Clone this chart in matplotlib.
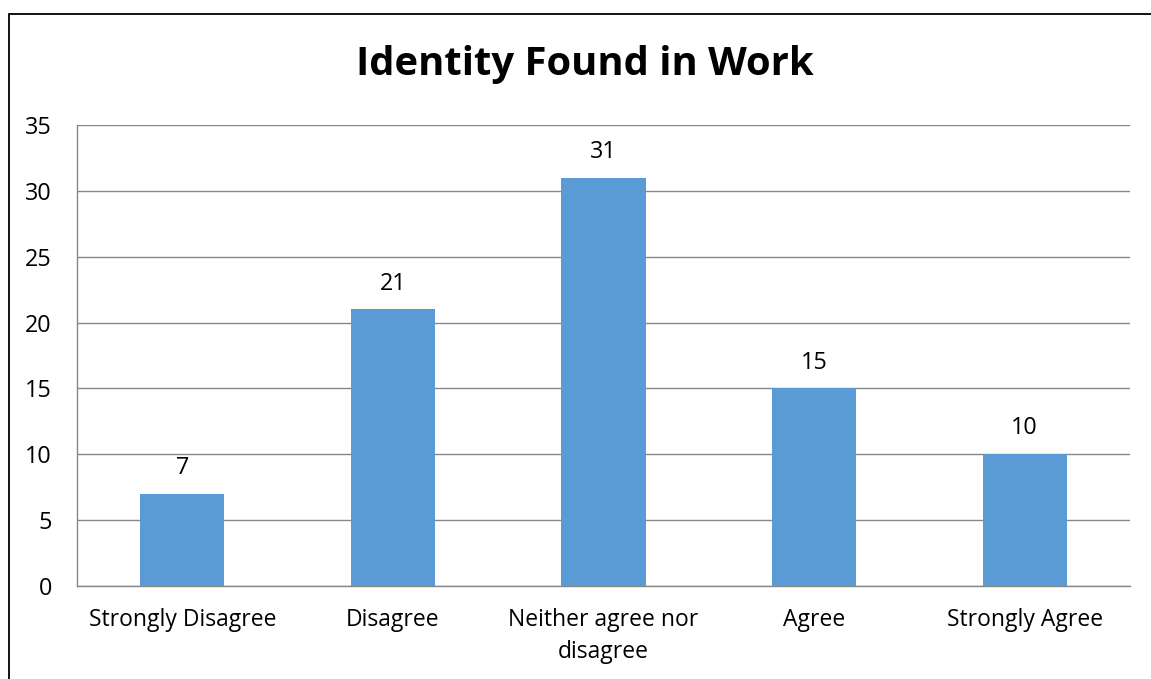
import numpy as np
import matplotlib.pyplot as plt
from matplotlib.patches import Rectangle

# Survey responses
categories = ['Strongly Disagree', 'Disagree', 'Neither agree nor\ndisagree', 'Agree', 'Strongly Agree']
counts = [7, 21, 31, 15, 10]

plt.rcParams['font.family'] = ['Open Sans', 'DejaVu Sans']

W, H = 1151, 679
fig = plt.figure(figsize=(W / 100, H / 100), dpi=100, facecolor='white')

# Chart area border (runs off the right and bottom edges)
fig.patches.append(Rectangle((8.5 / W, -0.1), 1.2, 1 - 13.5 / H + 0.1,
                             transform=fig.transFigure, fill=False,
                             edgecolor='black', linewidth=1.3))

ax = fig.add_axes([77 / W, 1 - 586 / H, (1130 - 77) / W, (586 - 125) / H])
x_pos = np.arange(len(categories))
rects = ax.bar(x_pos, counts, width=0.4, color='#5B9BD5', zorder=3)

ax.set_xlim(-0.5, len(categories) - 0.5)
ax.set_ylim(0, 35)
ax.set_yticks(np.arange(0, 36, 5))
ax.yaxis.grid(True, color='#878787', linewidth=1.0, zorder=0)
ax.set_xticks(x_pos)
ax.set_xticklabels(categories, fontsize=16.5, linespacing=1.45)
ax.tick_params(axis='both', length=0, colors='black')
ax.tick_params(axis='y', pad=18, labelsize=16.8)
ax.tick_params(axis='x', pad=16)

for side in ['top', 'right']:
    ax.spines[side].set_visible(False)
for side in ['left', 'bottom']:
    ax.spines[side].set_color('#878787')
    ax.spines[side].set_linewidth(1.0)

# Value labels above the bars
for rect, val in zip(rects, counts):
    ax.annotate(str(val), (rect.get_x() + rect.get_width() / 2, val),
                xytext=(0, 10), textcoords='offset points',
                ha='center', va='bottom', fontsize=16.8)

fig.text(585 / W, 1 - 65 / H, 'Identity Found in Work', ha='center', va='center',
         fontsize=28.8, fontweight='bold')

fig.savefig('out.png', dpi=100, facecolor='white')
